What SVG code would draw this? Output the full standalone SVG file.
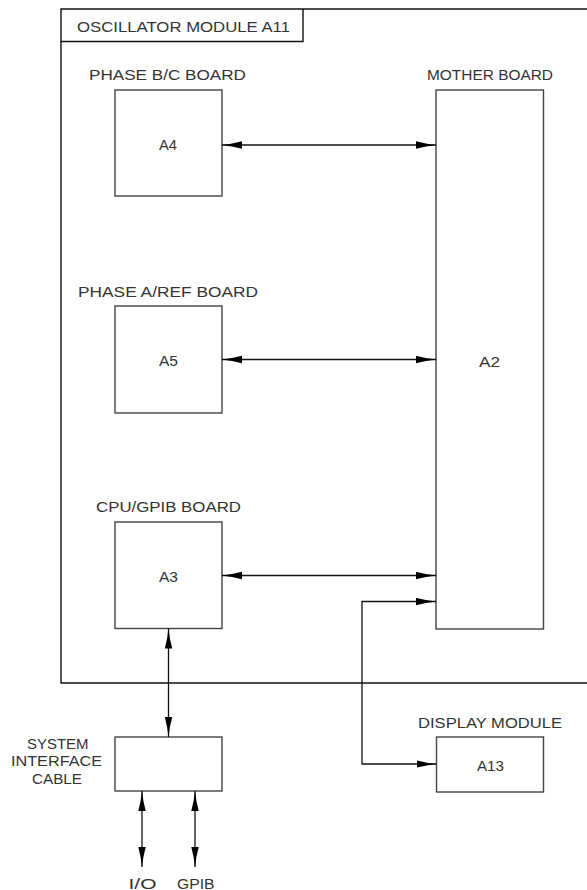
<svg xmlns="http://www.w3.org/2000/svg" width="587" height="890" viewBox="0 0 587 890">
<style>
.box{fill:none;stroke:#444;stroke-width:1.4}
.frame{fill:none;stroke:#111;stroke-width:1.4}
.lbl{font-family:"Liberation Sans",Arial,sans-serif;font-size:15px;fill:#333}
.con{fill:none;stroke:#111;stroke-width:1.3}
</style>
<defs>
<marker id="ah" markerUnits="userSpaceOnUse" markerWidth="22" markerHeight="10" refX="20" refY="4" orient="auto-start-reverse" viewBox="0 0 22 10">
<path d="M0,0.3 Q10,3 20,4 Q10,5 0,7.7 Z" fill="#000"/>
</marker>
</defs>
<rect width="587" height="890" fill="#fff"/>
<g id="oscillator-module">
<path class="frame" d="M587,9 H61 V683 H587"/>
<path class="frame" d="M61,41.5 H303 V9"/>
<text class="lbl" x="77" y="32" textLength="213" lengthAdjust="spacingAndGlyphs">OSCILLATOR MODULE A11</text>
</g>
<g id="a4">
<rect class="box" x="115" y="90" width="107" height="106"/>
<text class="lbl" x="89" y="80" textLength="157" lengthAdjust="spacingAndGlyphs">PHASE B/C BOARD</text>
<text class="lbl" x="159" y="150" textLength="18" lengthAdjust="spacingAndGlyphs">A4</text>
</g>
<g id="a5">
<rect class="box" x="115" y="306" width="107" height="107"/>
<text class="lbl" x="78" y="297" textLength="180" lengthAdjust="spacingAndGlyphs">PHASE A/REF BOARD</text>
<text class="lbl" x="159" y="366" textLength="19" lengthAdjust="spacingAndGlyphs">A5</text>
</g>
<g id="a3">
<rect class="box" x="115" y="522" width="107" height="106.5"/>
<text class="lbl" x="96" y="512" textLength="145" lengthAdjust="spacingAndGlyphs">CPU/GPIB BOARD</text>
<text class="lbl" x="159" y="582" textLength="19" lengthAdjust="spacingAndGlyphs">A3</text>
</g>
<g id="a2">
<rect class="box" x="436" y="90" width="107.5" height="539"/>
<text class="lbl" x="427" y="80" textLength="126" lengthAdjust="spacingAndGlyphs">MOTHER BOARD</text>
<text class="lbl" x="479" y="367" textLength="21" lengthAdjust="spacingAndGlyphs">A2</text>
</g>
<g id="a13">
<rect class="box" x="436.5" y="737" width="107" height="55"/>
<text class="lbl" x="418" y="728" textLength="144" lengthAdjust="spacingAndGlyphs">DISPLAY MODULE</text>
<text class="lbl" x="477" y="771" textLength="27" lengthAdjust="spacingAndGlyphs">A13</text>
</g>
<g id="cable">
<rect class="box" x="115" y="737" width="107" height="54"/>
<text class="lbl" x="27" y="748.5" textLength="61.5" lengthAdjust="spacingAndGlyphs">SYSTEM</text>
<text class="lbl" x="11" y="766" textLength="91" lengthAdjust="spacingAndGlyphs">INTERFACE</text>
<text class="lbl" x="32" y="783.5" textLength="50" lengthAdjust="spacingAndGlyphs">CABLE</text>
</g>
<g id="io-label">
<text class="lbl" x="128.5" y="888.5" textLength="28" lengthAdjust="spacingAndGlyphs">I/O</text>
</g>
<g id="gpib-label">
<text class="lbl" x="177" y="888.5" textLength="37.5" lengthAdjust="spacingAndGlyphs">GPIB</text>
</g>
<g id="connectors">
<path class="con" d="M222,145 H436" marker-start="url(#ah)" marker-end="url(#ah)"/>
<path class="con" d="M222,359.5 H436" marker-start="url(#ah)" marker-end="url(#ah)"/>
<path class="con" d="M222,575.5 H436" marker-start="url(#ah)" marker-end="url(#ah)"/>
<path class="con" d="M436,601.5 H362 V764 H436.5" marker-start="url(#ah)" marker-end="url(#ah)"/>
<path class="con" d="M168.5,628.5 V737" marker-start="url(#ah)" marker-end="url(#ah)"/>
<path class="con" d="M142,791 V867" marker-start="url(#ah)" marker-end="url(#ah)"/>
<path class="con" d="M195,791 V867" marker-start="url(#ah)" marker-end="url(#ah)"/>
</g>
</svg>
